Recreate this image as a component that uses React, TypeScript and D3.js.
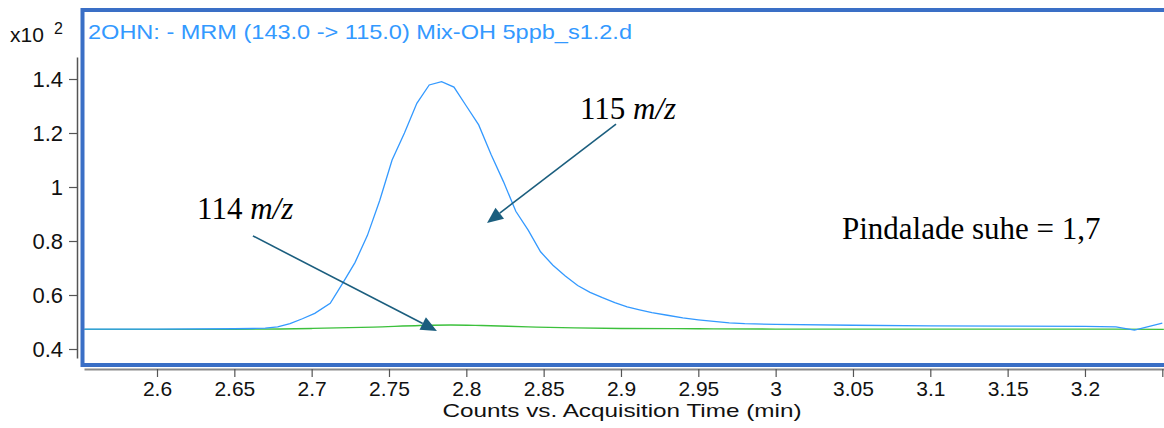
import React, { useRef, useEffect } from "react";
import * as d3 from "d3";

const width = 1164;
const height = 428;
const plot = { left: 84, right: 1164, top: 57, bottom: 358, axisY: 369 };
const sans = "'Liberation Sans', Arial, sans-serif";
const serif = "'Liberation Serif', 'Times New Roman', serif";
const frameColor = "#3a6fc6";
const blueColor = "#3399ff";
const greenColor = "#3cc03c";
const arrowColor = "#1b5e7e";

// 115 m/z trace (x10^2 counts)
const blueTime = [
  2.553, 2.6, 2.65, 2.662, 2.67, 2.678, 2.686, 2.694, 2.702, 2.712, 2.72, 2.728,
  2.736, 2.744, 2.752, 2.76, 2.768, 2.776, 2.784, 2.792, 2.8, 2.808, 2.816, 2.824,
  2.832, 2.84, 2.848, 2.856, 2.864, 2.872, 2.88, 2.888, 2.896, 2.904, 2.912, 2.92,
  2.93, 2.94, 2.95, 2.96, 2.97, 2.98, 3.0, 3.05, 3.1, 3.15, 3.2, 3.22, 3.232, 3.25,
];
const blueCounts = [
  0.474, 0.474, 0.475, 0.476, 0.477, 0.482, 0.494, 0.512, 0.532, 0.569, 0.643, 0.72,
  0.82, 0.95, 1.1, 1.2, 1.31, 1.378, 1.39, 1.37, 1.3, 1.23, 1.12, 1.02,
  0.91, 0.84, 0.76, 0.71, 0.67, 0.635, 0.61, 0.59, 0.572, 0.556, 0.545, 0.535,
  0.525, 0.515, 0.508, 0.502, 0.497, 0.494, 0.491, 0.488, 0.486, 0.485, 0.484, 0.482, 0.47, 0.496,
];

// 114 m/z trace
const greenTime = [2.553, 2.65, 2.7, 2.74, 2.77, 2.79, 2.81, 2.84, 2.87, 2.9, 2.95, 3.0, 3.1, 3.251];
const greenCounts = [0.473, 0.473, 0.476, 0.481, 0.487, 0.489, 0.487, 0.482, 0.478, 0.476, 0.475, 0.474, 0.474, 0.473];

const xTicks = [2.6, 2.65, 2.7, 2.75, 2.8, 2.85, 2.9, 2.95, 3, 3.05, 3.1, 3.15, 3.2, 3.25];
const yTicks = [0.4, 0.6, 0.8, 1, 1.2, 1.4];

const title = "2OHN: - MRM (143.0 -> 115.0) Mix-OH 5ppb_s1.2.d";
const xTitle = "Counts vs. Acquisition Time (min)";

// annotations in data units: [time, counts]
const arrows = [
  { from: [2.8968, 1.233], to: [2.8134, 0.867] },
  { from: [2.662, 0.819], to: [2.781, 0.467] },
];
const mzLabels = [
  { at: [2.8735, 1.252], num: "115" },
  { at: [2.6259, 0.8815], num: "114" },
];
const ratioLabel = { at: [3.0429, 0.8074], text: "Pindalade suhe = 1,7" };

const x = d3.scaleLinear().domain([2.5528, 3.2511]).range([plot.left, plot.right]);
const y = d3.scaleLinear().domain([0.3667, 1.4815]).range([plot.bottom, plot.top]);

const fmt = (v) => String(+v.toFixed(2));

const arrowHead = (x1, y1, x2, y2, len = 16, hw = 7) => {
  const a = Math.atan2(y2 - y1, x2 - x1);
  const bx = x2 - len * Math.cos(a);
  const by = y2 - len * Math.sin(a);
  const px = -Math.sin(a);
  const py = Math.cos(a);
  return {
    base: [bx, by],
    points: `${x2},${y2} ${bx + hw * px},${by + hw * py} ${bx - hw * px},${by - hw * py}`,
  };
};

export default function App() {
  const xAxisRef = useRef(null);
  const yAxisRef = useRef(null);

  useEffect(() => {
    const xAxis = d3
      .axisBottom(x)
      .tickValues(xTicks)
      .tickSize(8)
      .tickSizeOuter(0)
      .tickPadding(4)
      .tickFormat((v) => (v > 3.22 ? "" : fmt(v)));
    const gx = d3.select(xAxisRef.current).call(xAxis);
    gx.select(".domain").attr("stroke", "#8a8a8a").attr("stroke-width", 2);
    gx.selectAll(".tick line").attr("stroke", "#555").attr("stroke-width", 1.2);
    gx.selectAll("text").attr("font-family", sans).attr("font-size", 21).attr("fill", "#111");

    const yAxis = d3
      .axisLeft(y)
      .tickValues(yTicks)
      .tickSize(8)
      .tickSizeOuter(0)
      .tickPadding(6)
      .tickFormat(fmt);
    const gy = d3.select(yAxisRef.current).call(yAxis);
    gy.select(".domain").attr("stroke", "#555").attr("stroke-width", 1.5);
    gy.selectAll(".tick line").attr("stroke", "#555").attr("stroke-width", 1.2);
    gy.selectAll("text").attr("font-family", sans).attr("font-size", 22).attr("fill", "#111");
  }, []);

  const blueData = blueTime.map((t, i) => [t, blueCounts[i]]);
  const greenData = greenTime.map((t, i) => [t, greenCounts[i]]);
  const greenLine = d3
    .line()
    .x((d) => x(d[0]))
    .y((d) => y(d[1]))
    .curve(d3.curveMonotoneX)(greenData);
  const blueLine = d3
    .line()
    .x((d) => x(d[0]))
    .y((d) => y(d[1]))(blueData);

  return (
    <svg
      width={width}
      height={height}
      style={{ position: "absolute", left: 0, top: 0, background: "#fff" }}
    >
      <defs>
        <clipPath id="plotClip">
          <rect x={plot.left} y={12} width={plot.right - plot.left} height={351} />
        </clipPath>
      </defs>
      <rect x={0} y={0} width={width} height={height} fill="#fff" />

      {/* y exponent */}
      <text x={10} y={42} fontFamily={sans} fontSize={21} fill="#111">
        x10
      </text>
      <text x={54} y={34} fontFamily={sans} fontSize={16} fill="#111">
        2
      </text>

      <g ref={yAxisRef} transform={`translate(77, 0)`} />
      <g ref={xAxisRef} transform={`translate(0, ${plot.axisY})`} />

      <g clipPath="url(#plotClip)">
        <path d={greenLine} fill="none" stroke={greenColor} strokeWidth={1.3} />
        <path d={blueLine} fill="none" stroke={blueColor} strokeWidth={1.3} />
      </g>

      <rect
        x={82.5}
        y={10}
        width={1100}
        height={355}
        fill="none"
        stroke={frameColor}
        strokeWidth={4}
      />

      <text
        x={88}
        y={39}
        fontFamily={sans}
        fontSize={21}
        fill={blueColor}
        textLength={544}
        lengthAdjust="spacingAndGlyphs"
      >
        {title}
      </text>

      {arrows.map((a, i) => {
        const x1 = x(a.from[0]);
        const y1 = y(a.from[1]);
        const x2 = x(a.to[0]);
        const y2 = y(a.to[1]);
        const h = arrowHead(x1, y1, x2, y2);
        return (
          <g key={i}>
            <line x1={x1} y1={y1} x2={h.base[0]} y2={h.base[1]} stroke={arrowColor} strokeWidth={1.6} />
            <polygon points={h.points} fill={arrowColor} />
          </g>
        );
      })}

      {mzLabels.map((l, i) => (
        <text key={i} x={x(l.at[0])} y={y(l.at[1])} fontFamily={serif} fontSize={31} fill="#000">
          {l.num + " "}
          <tspan fontStyle="italic">m/z</tspan>
        </text>
      ))}
      <text x={x(ratioLabel.at[0])} y={y(ratioLabel.at[1])} fontFamily={serif} fontSize={31} fill="#000">
        {ratioLabel.text}
      </text>

      <text
        x={(plot.left + plot.right) / 2 - 2}
        y={417}
        textAnchor="middle"
        fontFamily={sans}
        fontSize={19}
        fill="#111"
        textLength={359}
        lengthAdjust="spacingAndGlyphs"
      >
        {xTitle}
      </text>
    </svg>
  );
}
